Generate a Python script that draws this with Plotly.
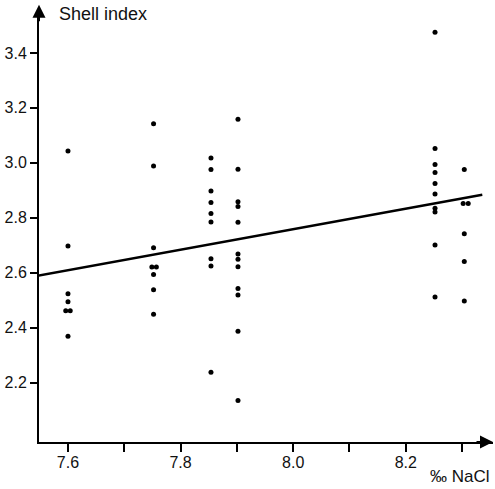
import plotly.graph_objects as go

# salinity groups (‰ NaCl) and shell index values
x_76 = [7.6, 7.6, 7.6, 7.6, 7.596, 7.604, 7.6]
y_76 = [3.043, 2.698, 2.524, 2.495, 2.462, 2.462, 2.370]

x_775 = [7.752, 7.752, 7.752, 7.749, 7.757, 7.752, 7.752, 7.752]
y_775 = [3.142, 2.989, 2.691, 2.621, 2.621, 2.594, 2.539, 2.450]

x_786 = [7.854] * 9
y_786 = [3.018, 2.976, 2.898, 2.856, 2.816, 2.785, 2.651, 2.625, 2.239]

x_79 = [7.902] * 12
y_79 = [3.159, 2.977, 2.859, 2.841, 2.784, 2.669, 2.650, 2.622, 2.543, 2.520, 2.388, 2.136]

x_825 = [8.252] * 10
y_825 = [3.475, 3.052, 2.994, 2.965, 2.925, 2.887, 2.835, 2.821, 2.701, 2.512]

x_83 = [8.304, 8.302, 8.311, 8.304, 8.304, 8.304]
y_83 = [2.976, 2.852, 2.852, 2.742, 2.641, 2.498]

# regression line end points
line_x = [7.548, 8.336]
line_y = [2.590, 2.884]

x_tickvals = [7.6, 7.7, 7.8, 7.9, 8.0, 8.1, 8.2, 8.3]
x_ticktext = ["7.6", "", "7.8", "", "8.0", "", "8.2", ""]
y_tickvals = [2.2, 2.4, 2.6, 2.8, 3.0, 3.2, 3.4]
y_ticktext = ["2.2", "2.4", "2.6", "2.8", "3.0", "3.2", "3.4"]

xs = x_76 + x_775 + x_786 + x_79 + x_825 + x_83
ys = y_76 + y_775 + y_786 + y_79 + y_825 + y_83

fig = go.Figure()
fig.add_trace(go.Scatter(x=line_x, y=line_y, mode="lines",
                         line=dict(color="black", width=2.5), showlegend=False,
                         cliponaxis=False, hoverinfo="skip"))
fig.add_trace(go.Scatter(x=xs, y=ys, mode="markers",
                         marker=dict(color="black", size=5), showlegend=False,
                         cliponaxis=False))

FAM = "Liberation Sans, Arial, sans-serif"
font = dict(family=FAM, size=16, color="#111")

fig.update_layout(
    width=495, height=489,
    margin=dict(l=39, r=2, t=10, b=47, autoexpand=False),
    paper_bgcolor="white", plot_bgcolor="white",
    font=font,
    xaxis=dict(range=[7.5485, 8.355], tickvals=x_tickvals, ticktext=x_ticktext,
               ticks="outside", ticklen=8, tickwidth=1.5, tickcolor="black",
               ticklabelstandoff=-3,
               showline=True, linecolor="black", linewidth=2, automargin=False,
               showgrid=False, zeroline=False, tickfont=font),
    yaxis=dict(range=[1.985, 3.556], tickvals=y_tickvals, ticktext=y_ticktext,
               ticks="outside", ticklen=7, tickwidth=1.5, tickcolor="black",
               showline=True, linecolor="black", linewidth=2, automargin=False,
               showgrid=False, zeroline=False, tickfont=font),
    annotations=[
        dict(xref="paper", yref="paper", x=1.0, y=0, ax=-18, ay=0,
             text="", showarrow=True,
             arrowhead=2, arrowsize=1.3, arrowwidth=2, arrowcolor="black"),
        dict(xref="paper", yref="paper", x=0, y=1.012, ax=0, ay=18,
             text="", showarrow=True,
             arrowhead=2, arrowsize=1.3, arrowwidth=2, arrowcolor="black"),
        dict(xref="paper", yref="paper", x=0.0396, y=0.991, xanchor="left",
             yanchor="middle", text="Shell index", showarrow=False,
             font=dict(family=FAM, size=18, color="#111")),
        dict(xref="paper", yref="paper", x=0.998, y=-0.081, xanchor="right",
             yanchor="middle", text="‰ NaCl", showarrow=False,
             font=dict(family=FAM, size=17, color="#111")),
    ],
)

fig.write_html("out.html", config={"displayModeBar": False},
               post_script="document.body.style.margin='0px';document.body.style.overflow='hidden';")
